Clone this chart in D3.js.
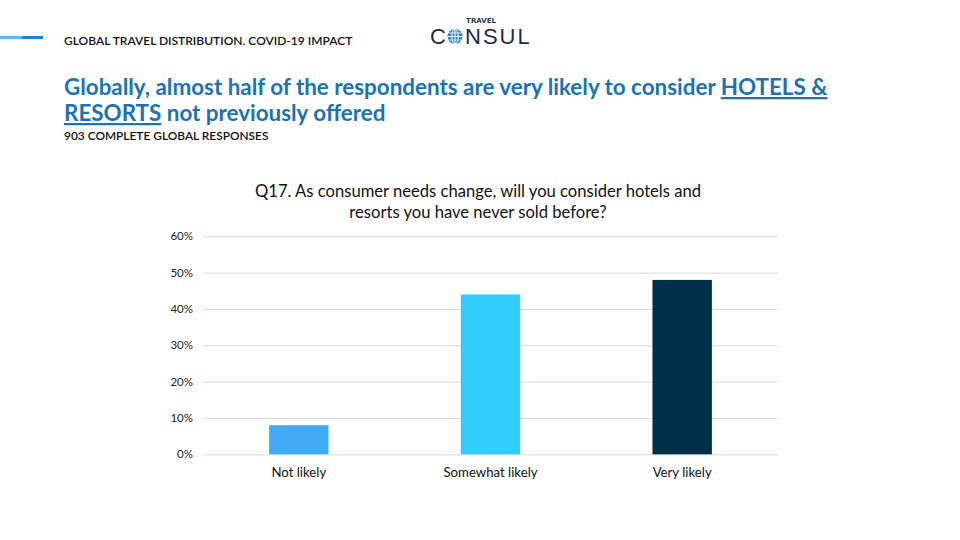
<!DOCTYPE html>
<html><head><meta charset="utf-8">
<script src="https://cdn.jsdelivr.net/npm/d3@7"></script>
<style>
html,body{margin:0;padding:0;background:#fff;}
svg{display:block;}
</style></head>
<body>
<script>
const categories = ["Not likely", "Somewhat likely", "Very likely"];
const values = [0.08, 0.44, 0.48];
const barColors = ["#42ABF5", "#33CCFF", "#003049"];
const yTicks = [0, 0.1, 0.2, 0.3, 0.4, 0.5, 0.6];

const W = 960, H = 540;
const svg = d3.select("body").append("svg").attr("width", W).attr("height", H);
const font = "Lato, 'Open Sans', sans-serif";

// decorative top-left line
svg.append("rect").attr("x", 0).attr("y", 36).attr("width", 22).attr("height", 3).attr("fill", "#63B9F2");
svg.append("rect").attr("x", 22).attr("y", 36).attr("width", 21).attr("height", 3).attr("fill", "#1E88D8");

svg.append("text").attr("x", 64).attr("y", 45).attr("font-family", font).attr("font-size", 12)
  .attr("font-weight", 600).attr("fill", "#111").text("GLOBAL TRAVEL DISTRIBUTION. COVID-19 IMPACT");

// logo
const logo = svg.append("g");
logo.append("text").attr("x", 481).attr("y", 23).attr("text-anchor", "middle").attr("font-family", "'DejaVu Sans', sans-serif")
  .attr("font-size", 7).attr("font-weight", "bold").attr("fill", "#2a3550").text("TRAVEL");
logo.append("text").attr("x", 430).attr("y", 44).attr("font-family", "'Liberation Sans', sans-serif")
  .attr("font-size", 22).attr("fill", "#1f2b45").text("C");
logo.append("text").attr("x", 465).attr("y", 44).attr("font-family", "'Liberation Sans', sans-serif")
  .attr("font-size", 22).attr("letter-spacing", 2).attr("fill", "#1f2b45").text("NSUL");
const gx = 455, gy = 36.5, gr = 7.5;
logo.append("circle").attr("cx", gx).attr("cy", gy).attr("r", gr).attr("fill", "#2f7fc4");
logo.append("ellipse").attr("cx", gx).attr("cy", gy).attr("rx", 3.2).attr("ry", gr).attr("fill", "none").attr("stroke", "#fff").attr("stroke-width", 1);
logo.append("line").attr("x1", gx - gr).attr("x2", gx + gr).attr("y1", gy).attr("y2", gy).attr("stroke", "#fff").attr("stroke-width", 1);
logo.append("line").attr("x1", gx).attr("x2", gx).attr("y1", gy - gr).attr("y2", gy + gr).attr("stroke", "#fff").attr("stroke-width", 1);
logo.append("line").attr("x1", gx - 6.5).attr("x2", gx + 6.5).attr("y1", gy - 3.5).attr("y2", gy - 3.5).attr("stroke", "#fff").attr("stroke-width", 0.8);
logo.append("line").attr("x1", gx - 6.5).attr("x2", gx + 6.5).attr("y1", gy + 3.5).attr("y2", gy + 3.5).attr("stroke", "#fff").attr("stroke-width", 0.8);

// title
const tcol = "#1B72B5";
const t1 = svg.append("text").attr("x", 64).attr("y", 95).attr("font-family", font).attr("font-size", 22.4)
  .attr("font-weight", "bold").attr("fill", tcol);
t1.append("tspan").text("Globally, almost half of the respondents are very likely to consider ");
t1.append("tspan").attr("text-decoration", "underline").text("HOTELS &");
const t2 = svg.append("text").attr("x", 64).attr("y", 121).attr("font-family", font).attr("font-size", 22.4)
  .attr("font-weight", "bold").attr("fill", tcol);
t2.append("tspan").attr("text-decoration", "underline").text("RESORTS");
t2.append("tspan").text(" not previously offered");

svg.append("text").attr("x", 64).attr("y", 140).attr("font-family", font).attr("font-size", 11.9)
  .attr("font-weight", 600).attr("fill", "#111").text("903 COMPLETE GLOBAL RESPONSES");

// chart title
svg.append("text").attr("x", 478).attr("y", 197).attr("text-anchor", "middle").attr("font-family", font)
  .attr("font-size", 16.6).attr("fill", "#111").text("Q17. As consumer needs change, will you consider hotels and");
svg.append("text").attr("x", 478).attr("y", 218).attr("text-anchor", "middle").attr("font-family", font)
  .attr("font-size", 16.6).attr("fill", "#111").text("resorts you have never sold before?");

// chart
const x0 = 203, x1 = 778, yTop = 236.3, yBot = 454.3;
const x = d3.scaleBand().domain(categories).range([x0, x1]).paddingInner(0.69).paddingOuter(0.345);
const y = d3.scaleLinear().domain([0, 0.6]).range([yBot, yTop]);

const grid = svg.append("g").attr("transform", `translate(${x0},0)`)
  .call(d3.axisLeft(y).tickValues(yTicks).tickSize(-(x1 - x0)).tickFormat(""));
grid.select(".domain").remove();
grid.selectAll("line").attr("stroke", "#d9d9d9").attr("stroke-width", 1);

const yAxis = svg.append("g").attr("transform", `translate(193,0)`)
  .call(d3.axisLeft(y).tickValues(yTicks).tickSize(0).tickPadding(0).tickFormat(d3.format(".0%")));
yAxis.select(".domain").remove();
yAxis.selectAll("text").attr("font-family", font).attr("font-size", 11.5).attr("fill", "#222");

svg.append("g").selectAll("rect").data(values).join("rect")
  .attr("x", (d, i) => x(categories[i]))
  .attr("width", x.bandwidth())
  .attr("y", d => y(d))
  .attr("height", d => yBot - y(d))
  .attr("fill", (d, i) => barColors[i]);

const xAxis = svg.append("g").attr("transform", `translate(0,${yBot})`)
  .call(d3.axisBottom(x).tickSize(0).tickPadding(13));
xAxis.select(".domain").remove();
xAxis.selectAll("text").attr("font-family", font).attr("font-size", 13.2).attr("fill", "#111");
</script>
</body></html>
